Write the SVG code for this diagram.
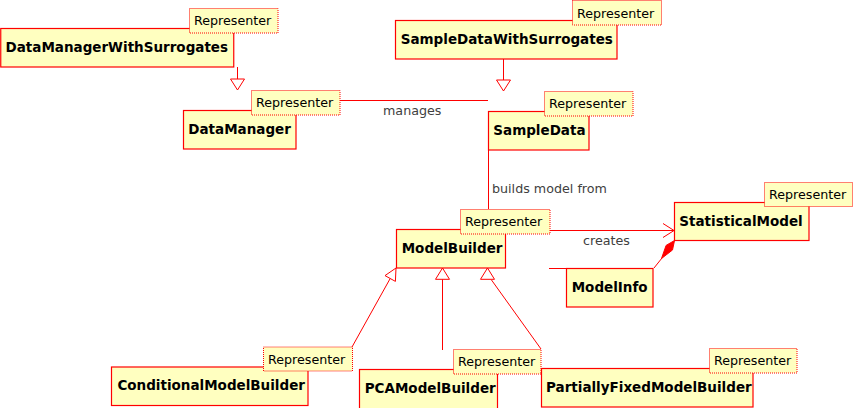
<svg xmlns="http://www.w3.org/2000/svg" width="853" height="408" viewBox="0 0 853 408">
<style>
.box{fill:#ffffc0;stroke:#ff0000;stroke-width:1.2}
.tag{fill:#ffffc0;stroke:#ff0000;stroke-width:1;stroke-dasharray:1 1}
.name{font-family:"DejaVu Sans",sans-serif;font-weight:bold;font-size:13.5px;fill:#000}
.tt{font-family:"DejaVu Sans",sans-serif;font-size:12.7px;fill:#000}
.lbl{font-family:"DejaVu Sans",sans-serif;font-size:12.7px;fill:#404040}
.ln{fill:none;stroke:#ff0000;stroke-width:1}
.tri{fill:#ffffff;stroke:#ff0000;stroke-width:1}
</style>
<rect width="853" height="408" fill="#ffffff"/>
<g id="connectors">
<line class="ln" x1="237.5" y1="67" x2="237.5" y2="79"/>
<polygon class="tri" points="230.5,79 244.5,79 237.5,90"/>
<line class="ln" x1="503.5" y1="59" x2="503.5" y2="80"/>
<polygon class="tri" points="496.5,80 510.5,80 503.5,91"/>
<line class="ln" x1="340" y1="100.5" x2="488" y2="100.5"/>
<text class="lbl" x="383" y="114.5">manages</text>
<line class="ln" x1="488.5" y1="150" x2="488.5" y2="209"/>
<text class="lbl" x="492" y="192.5">builds model from</text>
<line class="ln" x1="550" y1="230.5" x2="674" y2="230.5"/>
<polyline class="ln" points="663,223.5 674,230.5 663,237.5"/>
<text class="lbl" x="583" y="244.5">creates</text>
<line class="ln" x1="549" y1="268.5" x2="566" y2="268.5"/>
<line class="ln" x1="654" y1="268" x2="662" y2="258"/>
<polygon points="674.5,240.5 672.5,250 661.5,258.5 666.1,245.4" fill="#ff0000" stroke="#ff0000" stroke-width="1"/>
<line class="ln" x1="352" y1="347" x2="390.2" y2="278.5"/>
<polygon class="tri" points="396,268 395.4,281.4 385,275.6"/>
<line class="ln" x1="442.5" y1="350" x2="442.5" y2="279.3"/>
<polygon class="tri" points="442.5,268 449.5,279.3 435.5,279.3"/>
<line class="ln" x1="541" y1="349" x2="491.5" y2="280"/>
<polygon class="tri" points="487.5,268 494.5,279.3 480.5,279.3"/>
</g>
<g id="DataManagerWithSurrogates">
<rect class="box" x="0.75" y="28.5" width="233" height="38.5"/>
<text class="name" x="5.5" y="52">DataManagerWithSurrogates</text>
<rect class="tag" x="189.5" y="8.5" width="88.5" height="24.5"/>
<text class="tt" x="194" y="25">Representer</text>
</g>
<g id="DataManager">
<rect class="box" x="183.5" y="110.5" width="112.5" height="38.5"/>
<text class="name" x="188.3" y="133.5">DataManager</text>
<rect class="tag" x="251.5" y="90.5" width="88.5" height="24.5"/>
<text class="tt" x="256" y="107">Representer</text>
</g>
<g id="SampleDataWithSurrogates">
<rect class="box" x="395.5" y="20.5" width="221.5" height="38.5"/>
<text class="name" x="400.7" y="44">SampleDataWithSurrogates</text>
<rect class="tag" x="572.5" y="0.5" width="89" height="24.5"/>
<text class="tt" x="577" y="17.5">Representer</text>
</g>
<g id="SampleData">
<rect class="box" x="488.5" y="111.5" width="100.5" height="38.5"/>
<text class="name" x="493.3" y="134.5">SampleData</text>
<rect class="tag" x="544.5" y="91.5" width="88.5" height="24.5"/>
<text class="tt" x="549" y="108">Representer</text>
</g>
<g id="ModelBuilder">
<rect class="box" x="396.5" y="229.5" width="109" height="38.5"/>
<text class="name" x="401.7" y="252.5">ModelBuilder</text>
<rect class="tag" x="460.5" y="209.5" width="89.5" height="24.5"/>
<text class="tt" x="465" y="226">Representer</text>
</g>
<g id="StatisticalModel">
<rect class="box" x="674.5" y="202.5" width="134.5" height="38"/>
<text class="name" x="679.3" y="225.5">StatisticalModel</text>
<rect class="tag" x="764.5" y="182.5" width="88" height="24"/>
<text class="tt" x="769" y="199">Representer</text>
</g>
<g id="ModelInfo">
<rect class="box" x="566.5" y="268.5" width="86.5" height="38.5"/>
<text class="name" x="571.7" y="291.5">ModelInfo</text>
</g>
<g id="ConditionalModelBuilder">
<rect class="box" x="111.5" y="367" width="196.5" height="38.5"/>
<text class="name" x="117.4" y="390">ConditionalModelBuilder</text>
<rect class="tag" x="263.5" y="347" width="89" height="24"/>
<text class="tt" x="268" y="363.5">Representer</text>
</g>
<g id="PCAModelBuilder">
<rect class="box" x="359.5" y="369.5" width="138" height="40"/>
<text class="name" x="364.7" y="392.7">PCAModelBuilder</text>
<rect class="tag" x="453.5" y="349.5" width="87.5" height="24.5"/>
<text class="tt" x="458" y="366">Representer</text>
</g>
<g id="PartiallyFixedModelBuilder">
<rect class="box" x="541.5" y="368.5" width="211.5" height="38.5"/>
<text class="name" x="546" y="391.5">PartiallyFixedModelBuilder</text>
<rect class="tag" x="709.5" y="348.5" width="87.5" height="24.5"/>
<text class="tt" x="714" y="365">Representer</text>
</g>
</svg>
